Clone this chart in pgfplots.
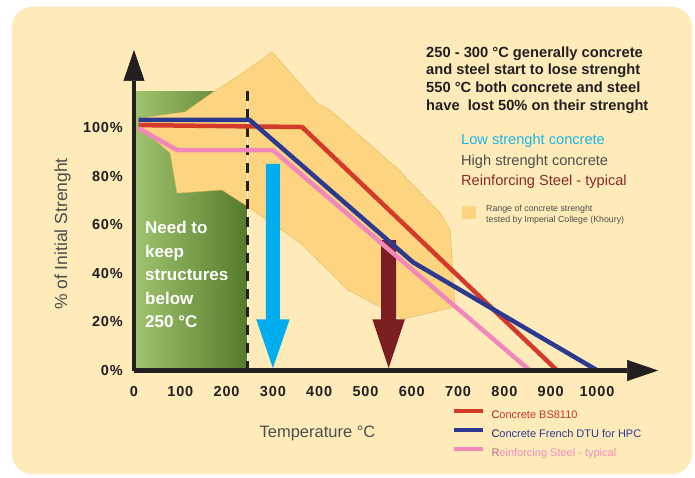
\documentclass[border=0pt]{standalone}
\usepackage{fontspec}
\setmainfont{Liberation Sans}
\newfontfamily\tickfont[LetterSpace=6]{Liberation Sans}
\usepackage{pgfplots}
\pgfplotsset{compat=1.18}
\usetikzlibrary{arrows.meta}
\definecolor{bgY}{HTML}{FEEBB9}
\definecolor{rangeC}{HTML}{FDD580}
\definecolor{rangeE}{HTML}{E2B660}
\definecolor{greenL}{HTML}{A0C46E}
\definecolor{greenD}{HTML}{557A2B}
\definecolor{axisK}{HTML}{231F20}
\definecolor{labK}{HTML}{4D4D4D}
\definecolor{redL}{HTML}{D43A2A}
\definecolor{blueL}{HTML}{2B3990}
\definecolor{pinkL}{HTML}{F287BB}
\definecolor{blueA}{HTML}{00AEEF}
\definecolor{redA}{HTML}{7B1E22}
\definecolor{cyanT}{HTML}{1BB5E8}
\definecolor{steelT}{HTML}{8B2A2A}
\definecolor{redT}{HTML}{C8372D}
\definecolor{redTd}{HTML}{9A2020}
\definecolor{blueTd}{HTML}{1B1464}
\definecolor{pinkT}{HTML}{F08DC0}
\definecolor{pinkTd}{HTML}{B86A8C}
\begin{document}
\begin{tikzpicture}[x=1pt,y=1pt]
\useasboundingbox (0,0) rectangle (695,477);
\fill[white] (0,0) rectangle (695,477);
\fill[bgY, rounded corners=20pt] (12,3) rectangle (692,470);
\begin{axis}[
  at={(134pt,106.5pt)}, anchor=south west,
  scale only axis, width=524.1pt, height=320.5pt,
  xmin=0, xmax=1132, ymin=0, ymax=131.9,
  axis lines=left, axis on top=true, clip=false,
  axis line style={line width=4.5pt, draw=axisK, -{Triangle[length=31pt,width=21pt,line width=0.5pt]}},
  xtick={0,100,...,1000}, ytick={0,20,...,100},
  major tick length=0pt,
  xticklabel={\pgfmathprintnumber{\tick}},
  yticklabel={\pgfmathprintnumber{\tick}\%},
  /pgf/number format/1000 sep={},
  /pgf/number format/assume math mode=true,
  ticklabel style={font=\tickfont\bfseries\fontsize{14.5}{15}\selectfont, text=axisK, inner sep=0pt},
  xticklabel style={anchor=base, yshift=-26pt},
  yticklabel style={anchor=east, xshift=-11pt},
  xlabel={Temperature °C}, ylabel={\% of Initial Strenght},
  xlabel style={at={(axis description cs:0.3501,-0.2075)}, anchor=base, font=\fontsize{16.5}{18}\selectfont, text=labK, inner sep=0pt},
  ylabel style={at={(axis description cs:-0.1278,0.4259)}, anchor=base, rotate=0, font=\fontsize{17.5}{18}\selectfont, text=labK, inner sep=0pt},
  legend style={at={(axis description cs:0.6068,-0.1201)}, anchor=north west, draw=none, fill=none, inner sep=0pt, outer sep=0pt, row sep=7pt, column sep=6pt, font=\fontsize{11}{12}\selectfont, nodes={inner sep=0pt, text height=8pt, text depth=2.5pt}},
  legend cell align=left,
  legend image code/.code={\path (0pt,0pt); \draw[line width=4.5pt] (0pt,4.5pt) -- (29pt,4.5pt);},
]
% green "safe" zone
\addplot[draw=none, left color=greenL, right color=greenD, forget plot] coordinates {(0,0) (245,0) (245,115) (0,115)} -- cycle;
% range of concrete strength (Imperial College)
\addplot[fill=rangeC, draw=rangeE, line width=0.4pt, forget plot] coordinates {
(13,103.9) (110,106.4) (171,114.6) (229,121.6) (298,131.1) (395,110.1) (423,107.2)
(568,83.3) (661,64.8) (683,57.8) (693,26.1) (581,21.2) (462,33.1) (359,52.5)
(244,67.7) (190,74.3) (93,73.0) (78,89.5) (13,100.2)} -- cycle;
% 250 C limit
\addplot[white, line width=0.8pt, forget plot] coordinates {(245,0) (245,115)};
\addplot[axisK, line width=3.8pt, dash pattern=on 10pt off 8pt, forget plot] coordinates {(245,115) (245,0)};
% arrows
\fill[blueA] (285,85) -- (315,85) -- (315,21) -- (336,21) -- (300,1) -- (264,21) -- (285,21) -- cycle;
\fill[redA] (534,53.7) -- (566,53.7) -- (566,21) -- (585,21) -- (550,1) -- (515,21) -- (534,21) -- cycle;
% curves
\addplot[redL, line width=4.5pt] coordinates {(10,101.0) (363,100.2) (914,0)};
\addlegendentry{\textcolor{redTd}{C}\textcolor{redT}{oncrete BS8110}}
\addplot[blueL, line width=4.5pt] coordinates {(10,103.1) (250,103.1) (603,44.5) (1001,0)};
\addlegendentry{\textcolor{blueTd}{C}\textcolor{blueL}{oncrete French DTU for HPC}}
\addplot[pinkL, line width=4.5pt] coordinates {(10,99.7) (93,90.7) (300,90.7) (855,0)};
\addlegendentry{\textcolor{pinkTd}{R}\textcolor{pinkT}{einforcing Steel - typical}}
\end{axis}
% annotations
\begin{scope}[every node/.style={anchor=base west, inner sep=0pt}]
\node[font=\bfseries\fontsize{14.7}{16}\selectfont, text=axisK] at (426,419) {250 - 300 °C generally concrete};
\node[font=\bfseries\fontsize{14.7}{16}\selectfont, text=axisK] at (426,402) {and steel start to lose strenght};
\node[font=\bfseries\fontsize{14.7}{16}\selectfont, text=axisK] at (426,384) {550 °C both concrete and steel};
\node[font=\bfseries\fontsize{14.7}{16}\selectfont, text=axisK] at (426,366) {have\ \ lost 50\% on their strenght};
\node[font=\fontsize{14.6}{16}\selectfont, text=cyanT] at (461,332) {Low strenght concrete};
\node[font=\fontsize{14.6}{16}\selectfont, text=labK] at (461,311) {High strenght concrete};
\node[font=\fontsize{14.6}{16}\selectfont, text=steelT] at (461,291) {Reinforcing Steel - typical};
\fill[rangeC] (462,258) rectangle (476,271);
\node[font=\fontsize{8.8}{10}\selectfont, text=labK] at (486,265.5) {Range of concrete strenght};
\node[font=\fontsize{8.8}{10}\selectfont, text=labK] at (486,254.5) {tested by Imperial College (Khoury)};
\node[font=\bfseries\fontsize{17}{18}\selectfont, text=white] at (145,243.5) {Need to};
\node[font=\bfseries\fontsize{17}{18}\selectfont, text=white] at (145,220) {keep};
\node[font=\bfseries\fontsize{17}{18}\selectfont, text=white] at (145,196.5) {structures};
\node[font=\bfseries\fontsize{17}{18}\selectfont, text=white] at (145,173) {below};
\node[font=\bfseries\fontsize{17}{18}\selectfont, text=white] at (145,149.5) {250 °C};
\end{scope}
\end{tikzpicture}
\end{document}
